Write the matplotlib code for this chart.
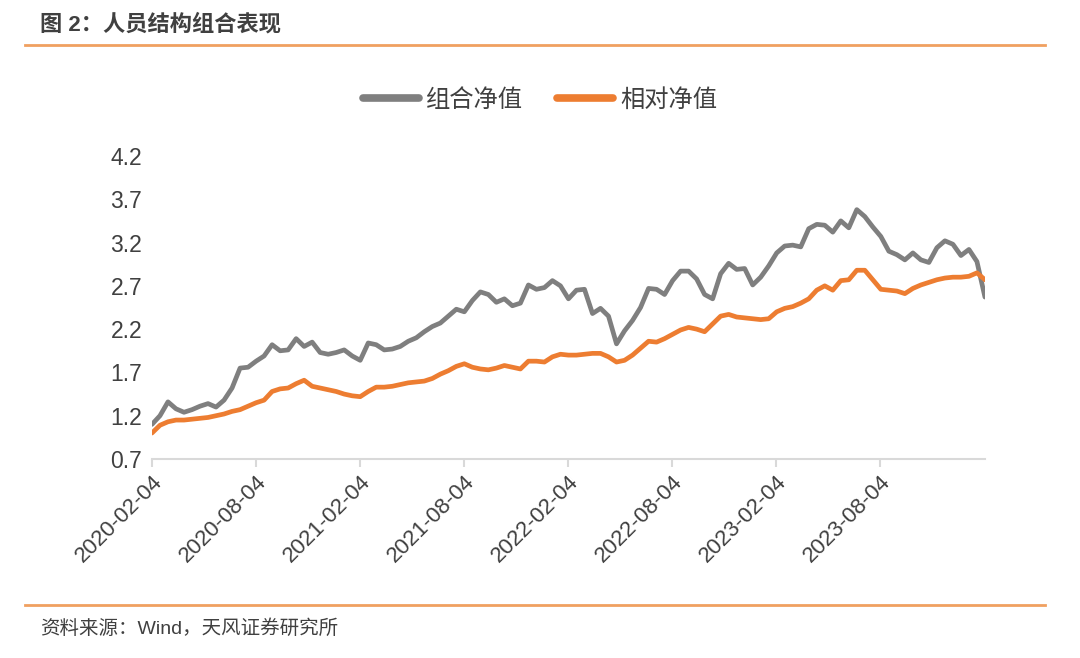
import pandas as pd
import matplotlib
matplotlib.use("Agg")
import matplotlib.pyplot as plt
from matplotlib.lines import Line2D

plt.rcParams['font.family'] = ['Liberation Sans', 'Noto Sans CJK SC', 'DejaVu Sans']

# biweekly readings, 2020-02-04 .. 2024-02-05
dates = pd.date_range("2020-02-04", "2024-02-05", periods=105)

portfolio_nav = [
    1.10, 1.20, 1.36, 1.28, 1.24, 1.27, 1.31, 1.34, 1.30, 1.38,
    1.52, 1.75, 1.76, 1.83, 1.89, 2.02, 1.95, 1.96, 2.09, 2.00,
    2.05, 1.93, 1.91, 1.93, 1.96, 1.89, 1.84, 2.04, 2.02, 1.96,
    1.97, 2.00, 2.06, 2.10, 2.17, 2.23, 2.27, 2.35, 2.43, 2.40,
    2.53, 2.63, 2.60, 2.51, 2.55, 2.47, 2.50, 2.71, 2.66, 2.68,
    2.76, 2.70, 2.55, 2.65, 2.66, 2.38, 2.44, 2.35, 2.03, 2.18,
    2.30, 2.45, 2.67, 2.66, 2.60, 2.76, 2.87, 2.87, 2.78, 2.60,
    2.55, 2.84, 2.96, 2.89, 2.90, 2.71, 2.80, 2.93, 3.08, 3.16,
    3.17, 3.15, 3.36, 3.41, 3.40, 3.32, 3.45, 3.37, 3.58, 3.50,
    3.38, 3.27, 3.10, 3.06, 3.00, 3.08, 3.00, 2.97, 3.14, 3.22,
    3.18, 3.05, 3.12, 2.98, 2.57,
]

relative_nav = [
    1.00, 1.09, 1.13, 1.15, 1.15, 1.16, 1.17, 1.18, 1.20, 1.22,
    1.25, 1.27, 1.31, 1.35, 1.38, 1.48, 1.51, 1.52, 1.57, 1.61,
    1.54, 1.52, 1.50, 1.48, 1.45, 1.43, 1.42, 1.48, 1.53, 1.53,
    1.54, 1.56, 1.58, 1.59, 1.60, 1.63, 1.68, 1.72, 1.77, 1.80,
    1.76, 1.74, 1.73, 1.75, 1.78, 1.76, 1.74, 1.83, 1.83, 1.82,
    1.88, 1.91, 1.90, 1.90, 1.91, 1.92, 1.92, 1.88, 1.82, 1.84,
    1.90, 1.98, 2.06, 2.05, 2.09, 2.14, 2.19, 2.22, 2.20, 2.17,
    2.26, 2.35, 2.37, 2.34, 2.33, 2.32, 2.31, 2.32, 2.40, 2.44,
    2.46, 2.50, 2.55, 2.65, 2.70, 2.65, 2.76, 2.77, 2.88, 2.88,
    2.77, 2.66, 2.65, 2.64, 2.61, 2.67, 2.71, 2.74, 2.77, 2.79,
    2.80, 2.80, 2.81, 2.85, 2.77,
]

tick_dates = ["2020-02-04", "2020-08-04", "2021-02-04", "2021-08-04",
              "2022-02-04", "2022-08-04", "2023-02-04", "2023-08-04"]
y_ticks = [0.7, 1.2, 1.7, 2.2, 2.7, 3.2, 3.7, 4.2]

gray = "#7F7F7F"
orange = "#ED7D31"
rule = "#F0A060"
txt = "#404040"

fig = plt.figure(figsize=(10.8, 6.58), dpi=100)
ax = fig.add_axes([0.1407, 0.3024, 0.7713, 0.4606])

ax.plot(dates, portfolio_nav, color=gray, lw=3.4, solid_capstyle="round", solid_joinstyle="round")
ax.plot(dates, relative_nav, color=orange, lw=3.4, solid_capstyle="round", solid_joinstyle="round")

ax.set_ylim(0.7, 4.2)
ax.set_yticks(y_ticks)
ax.set_yticklabels([f"{v:.1f}" for v in y_ticks])
ax.set_xlim(pd.Timestamp("2020-02-04"), pd.Timestamp("2024-02-05"))
ax.set_xticks(pd.to_datetime(tick_dates))
ax.set_xticklabels(tick_dates, rotation=45, ha="right", rotation_mode="anchor")

for s in ["top", "right", "left"]:
    ax.spines[s].set_visible(False)
ax.spines["bottom"].set_color("#D9D9D9")
ax.spines["bottom"].set_linewidth(1.5)
ax.tick_params(axis="y", length=0, pad=7, labelsize=16.5, labelcolor=txt)
ax.tick_params(axis="x", length=6, width=1.5, color="#D9D9D9", direction="out",
               pad=3, labelsize=16, labelcolor=txt)

handles = [Line2D([0], [0], color=gray, lw=5.5, solid_capstyle="round"),
           Line2D([0], [0], color=orange, lw=5.5, solid_capstyle="round")]
fig.legend(handles, ["组合净值", "相对净值"], loc="center", bbox_to_anchor=(0.5, 0.848),
           ncol=2, frameon=False, fontsize=17.5, handlelength=2.3, handletextpad=0.3,
           columnspacing=1.4, labelcolor=txt)

# header and footer
fig.text(0.037, 0.962, "图 2：人员结构组合表现", fontsize=16, fontweight="bold",
         color=txt, va="center", ha="left")
fig.add_artist(Line2D([0.023, 0.968], [0.931, 0.931], color=rule, lw=2))
fig.add_artist(Line2D([0.023, 0.968], [0.081, 0.081], color=rule, lw=2))
fig.text(0.037, 0.045, "资料来源：Wind，天风证券研究所", fontsize=14,
         color=txt, va="center", ha="left")

fig.savefig("out.png", dpi=100, facecolor="white")
